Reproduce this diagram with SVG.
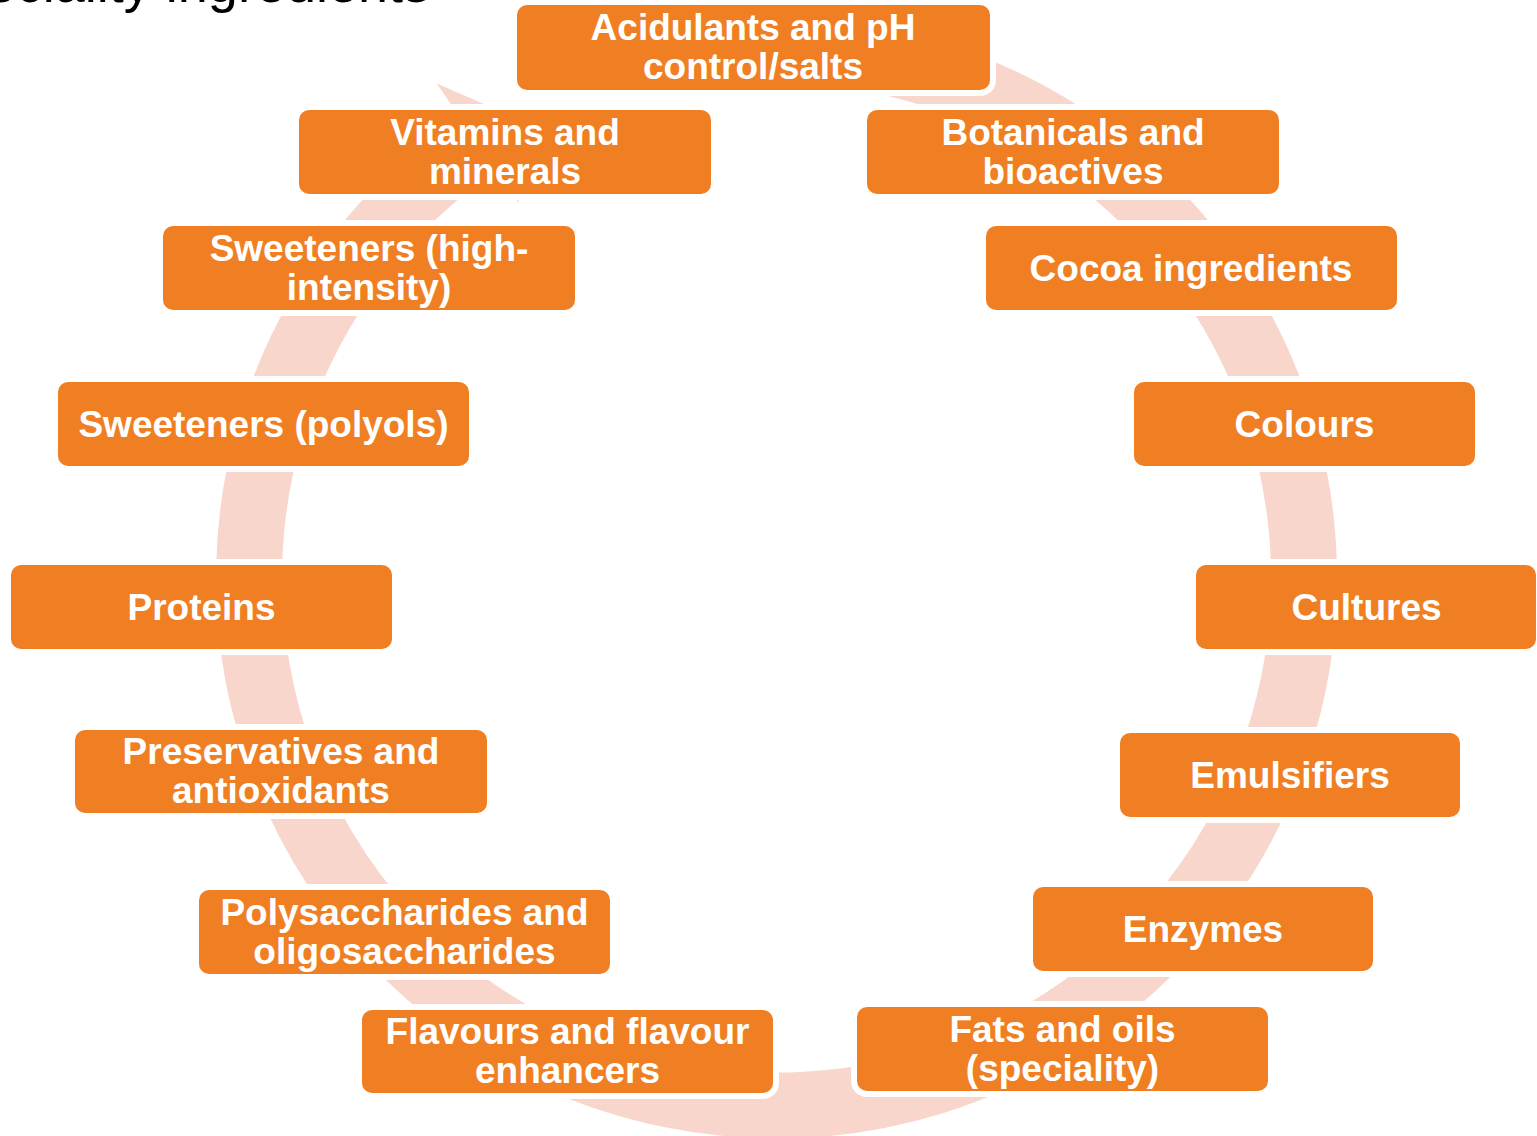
<svg xmlns="http://www.w3.org/2000/svg" width="1537" height="1136" viewBox="0 0 1537 1136">
  <style>
    .box { fill: #F07F24; stroke: #FFFFFF; stroke-width: 12; paint-order: stroke; }
    .lbl { font-family: "Liberation Sans", Arial, sans-serif; font-weight: bold; font-size: 37px; fill: #FFFFFF; text-anchor: middle; }
    .title { font-family: "Liberation Sans", Arial, sans-serif; font-size: 54px; fill: #000000; text-anchor: end; }
    .ring { fill: none; stroke: #F8D6CC; stroke-width: 66; }
    .head { fill: #F8D6CC; }
  </style>

  <rect width="1537" height="1136" fill="#FFFFFF"/>

  <!-- page title, partly above the top edge -->
  <text class="title" x="430" y="2">Speciality ingredients</text>

  <!-- cycle ring with its arrowhead, drawn behind the nodes -->
  <g id="connectors">
    <path class="ring" d="M 776.5 50.5 A 527.5 527.5 0 1 1 477.7 143.3"/>
    <polygon class="head" points="436.7,83.5 518.8,203 517.5,118.4"/>
  </g>

  <g id="node-acidulants">
    <rect class="box" x="517" y="5" width="473" height="85" rx="10"/>
    <text class="lbl" x="753" y="40">Acidulants and pH</text>
    <text class="lbl" x="753" y="79">control/salts</text>
  </g>
  <g id="node-vitamins">
    <rect class="box" x="299" y="110" width="412" height="84" rx="10"/>
    <text class="lbl" x="505" y="144.5">Vitamins and</text>
    <text class="lbl" x="505" y="183.5">minerals</text>
  </g>
  <g id="node-botanicals">
    <rect class="box" x="867" y="110" width="412" height="84" rx="10"/>
    <text class="lbl" x="1073" y="144.5">Botanicals and</text>
    <text class="lbl" x="1073" y="183.5">bioactives</text>
  </g>
  <g id="node-sweeteners-high">
    <rect class="box" x="163" y="226" width="412" height="84" rx="10"/>
    <text class="lbl" x="369" y="260.5">Sweeteners (high-</text>
    <text class="lbl" x="369" y="299.5">intensity)</text>
  </g>
  <g id="node-cocoa">
    <rect class="box" x="986" y="226" width="411" height="84" rx="10"/>
    <text class="lbl" x="1191" y="280.5">Cocoa ingredients</text>
  </g>
  <g id="node-polyols">
    <rect class="box" x="58" y="382" width="411" height="84" rx="10"/>
    <text class="lbl" x="263.5" y="436.5">Sweeteners (polyols)</text>
  </g>
  <g id="node-colours">
    <rect class="box" x="1134" y="382" width="341" height="84" rx="10"/>
    <text class="lbl" x="1304.5" y="436.5">Colours</text>
  </g>
  <g id="node-proteins">
    <rect class="box" x="11" y="565" width="381" height="84" rx="10"/>
    <text class="lbl" x="201.5" y="619.5">Proteins</text>
  </g>
  <g id="node-cultures">
    <rect class="box" x="1196" y="565" width="340" height="84" rx="10"/>
    <text class="lbl" x="1366.5" y="619.5">Cultures</text>
  </g>
  <g id="node-preservatives">
    <rect class="box" x="75" y="730" width="412" height="83" rx="10"/>
    <text class="lbl" x="281" y="764">Preservatives and</text>
    <text class="lbl" x="281" y="803">antioxidants</text>
  </g>
  <g id="node-emulsifiers">
    <rect class="box" x="1120" y="733" width="340" height="84" rx="10"/>
    <text class="lbl" x="1290" y="787.5">Emulsifiers</text>
  </g>
  <g id="node-polysaccharides">
    <rect class="box" x="199" y="890" width="411" height="84" rx="10"/>
    <text class="lbl" x="404.5" y="924.5">Polysaccharides and</text>
    <text class="lbl" x="404.5" y="963.5">oligosaccharides</text>
  </g>
  <g id="node-enzymes">
    <rect class="box" x="1033" y="887" width="340" height="84" rx="10"/>
    <text class="lbl" x="1203" y="941.5">Enzymes</text>
  </g>
  <g id="node-flavours">
    <rect class="box" x="362" y="1010" width="411" height="83" rx="10"/>
    <text class="lbl" x="567.5" y="1044">Flavours and flavour</text>
    <text class="lbl" x="567.5" y="1083">enhancers</text>
  </g>
  <g id="node-fats">
    <rect class="box" x="857" y="1007" width="411" height="84" rx="10"/>
    <text class="lbl" x="1062.5" y="1041.5">Fats and oils</text>
    <text class="lbl" x="1062.5" y="1080.5">(speciality)</text>
  </g>
</svg>
